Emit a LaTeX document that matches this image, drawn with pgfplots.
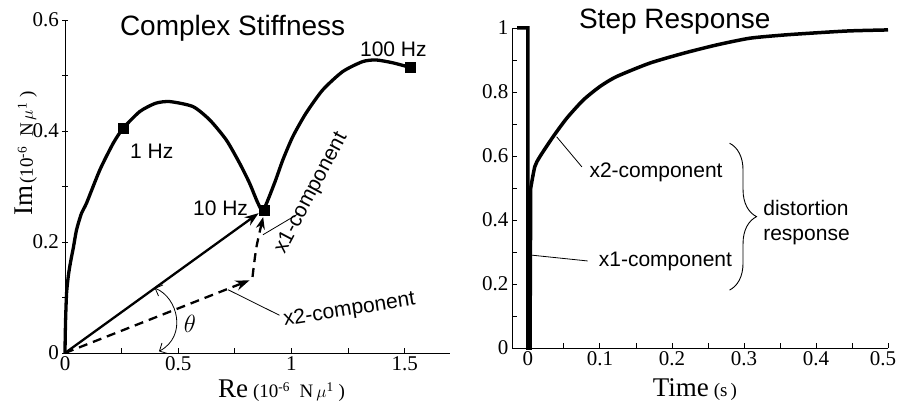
\documentclass[border=0pt]{standalone}
\usepackage{fontspec}
\setmainfont{Liberation Serif}
\newfontfamily\arial{Liberation Sans}
\usepackage{pgfplots}
\pgfplotsset{compat=1.18}
\usetikzlibrary{arrows.meta,decorations.pathreplacing}

\begin{document}
\begin{tikzpicture}
\useasboundingbox (0pt,0pt) rectangle (899pt,407pt);
\pgfplotsset{
  myaxis/.style={
    scale only axis, axis lines*=left, clip=false,
    axis line style={line width=0.8pt},
    tick style={line width=0.8pt, black},
    major tick length=5pt, minor tick length=5pt,
    tick align=inside,
    /pgf/number format/assume math mode=true,
    ticklabel style={font=\fontsize{21}{21}\selectfont},
  }
}
% ---------------- Left: Complex Stiffness ----------------
\begin{axis}[myaxis, at={(65pt,54pt)}, anchor=south west,
  width=385pt, height=333pt,
  xmin=0, xmax=1.7, ymin=0, ymax=0.6,
  xtick={0,0.5,1,1.5}, minor xtick={0.25,0.75,1.25},
  ytick={0,0.2,0.4,0.6}, minor ytick={0.1,0.3,0.5},
  ytick align=center]
\addplot[black, line width=3.3pt, smooth, tension=0.4] coordinates {
 (0,0) (0.001,0.03) (0.003,0.065) (0.007,0.108) (0.015,0.14) (0.025,0.165)
 (0.037,0.19) (0.051,0.222) (0.073,0.252) (0.095,0.27) (0.154,0.33) (0.213,0.378)
 (0.257,0.405) (0.33,0.435) (0.4,0.45) (0.463,0.453) (0.565,0.444) (0.639,0.42)
 (0.712,0.384) (0.771,0.342) (0.815,0.306) (0.852,0.27) (0.876,0.258)
 (0.925,0.306) (0.962,0.348) (1.006,0.39) (1.064,0.432) (1.138,0.474)
 (1.226,0.507) (1.314,0.525) (1.373,0.528) (1.446,0.523) (1.52,0.515)};
\addplot[black, only marks, mark=square*, mark size=5pt] coordinates {
 (0.257,0.405) (0.881,0.258) (1.525,0.515)};
% vectors
\addplot[black, line width=2.3pt, -{Stealth[length=14pt,width=10pt]}] coordinates {(0,0) (0.855,0.252)};
\addplot[black, line width=2.3pt, dash pattern=on 9pt off 6pt, -{Stealth[length=14pt,width=10pt]}] coordinates {(0,0) (0.815,0.131)};
\addplot[black, line width=2.3pt, dash pattern=on 9pt off 6pt, smooth, -{Stealth[length=12pt,width=9pt]}] coordinates {(0.828,0.137) (0.845,0.19) (0.875,0.245)};
% angle arc
\draw[line width=0.8pt, {Straight Barb[length=6pt]}-{Straight Barb[length=6pt]}] (axis cs:0.396,0.117) .. controls (axis cs:0.5,0.1) and (axis cs:0.54,0.03) .. (axis cs:0.415,0.003);
\node[font=\fontsize{24}{24}\selectfont] at (axis cs:0.551,0.053) {$\theta$};
% leaders and labels
\draw[line width=0.8pt] (axis cs:0.874,0.213) -- (axis cs:1.035,0.252);
\draw[line width=0.8pt] (axis cs:0.72,0.114) -- (axis cs:0.947,0.068);
\node[font=\arial\fontsize{21}{21}\selectfont, rotate=62] at (axis cs:1.088,0.288) {x1-component};
\node[font=\arial\fontsize{21}{21}\selectfont, rotate=9] at (axis cs:1.256,0.077) {x2-component};
\node[font=\arial\fontsize{21}{21}\selectfont] at (axis cs:0.383,0.364) {1 Hz};
\node[font=\arial\fontsize{21}{21}\selectfont] at (axis cs:0.687,0.261) {10 Hz};
\node[font=\arial\fontsize{21}{21}\selectfont] at (axis cs:1.45,0.548) {100 Hz};
\node[font=\arial\fontsize{28}{28}\selectfont] at (axis cs:0.74,0.586) {Complex Stiffness};
% axis labels
\node at (axis cs:0.956,-0.068) {{\fontsize{27}{27}\selectfont Re}\ \ {\fontsize{19}{19}\selectfont (10\textsuperscript{-6}\ \ N\,$\mu$\textsuperscript{1}\ )}};
\node[rotate=90] at (axis cs:-0.172,0.359) {{\fontsize{27}{27}\selectfont Im}\ {\fontsize{19}{19}\selectfont (10\textsuperscript{-6}\ \ N\,$\mu$\textsuperscript{1}\ )}};
\end{axis}
% ---------------- Right: Step Response ----------------
\begin{axis}[myaxis, at={(512pt,59pt)}, anchor=south west,
  width=376pt, height=320pt,
  xmin=-0.022, xmax=0.5, ymin=0, ymax=1,
  xtick={0,0.1,0.2,0.3,0.4,0.5}, minor xtick={0.05,0.15,0.25,0.35,0.45},
  xticklabels={0,0.1,0.2,0.3,0.4,{\hspace*{-10pt}0.5}},
  ytick={0,0.2,0.4,0.6,0.8,1}, minor ytick={0.1,0.3,0.5,0.7,0.9}]
\addplot[black, line width=3.5pt] coordinates {
 (-0.015,1) (0,1) (0,0) (0.003,0) (0.004,0.5)};
\addplot[black, line width=3.5pt, smooth, tension=0.4] coordinates {
 (0.004,0.5) (0.0097,0.567) (0.0167,0.598) (0.035,0.66) (0.054,0.718)
 (0.077,0.775) (0.1,0.817) (0.123,0.848) (0.169,0.89) (0.216,0.921)
 (0.262,0.947) (0.308,0.968) (0.355,0.978) (0.401,0.985) (0.447,0.991) (0.5,0.994)};
\draw[line width=0.8pt] (axis cs:0.04,0.66) -- (axis cs:0.075,0.566);
\draw[line width=0.8pt] (axis cs:0.006,0.29) -- (axis cs:0.083,0.272);
\node[font=\arial\fontsize{21}{21}\selectfont] at (axis cs:0.178,0.55) {x2-component};
\node[font=\arial\fontsize{21}{21}\selectfont] at (axis cs:0.191,0.272) {x1-component};
\draw[line width=0.9pt, decorate, decoration={brace, amplitude=27pt}] (axis cs:0.28,0.64) -- (axis cs:0.28,0.181);
\node[font=\arial\fontsize{21}{25}\selectfont, anchor=west, align=left] at (axis cs:0.322,0.392) {distortion\\response};
\node[font=\arial\fontsize{28}{28}\selectfont] at (axis cs:0.204,1.019) {Step Response};
\node at (axis cs:0.232,-0.13) {{\fontsize{27}{27}\selectfont Time}\ \ {\fontsize{19}{19}\selectfont (s\,)}};
\end{axis}
\end{tikzpicture}
\end{document}
